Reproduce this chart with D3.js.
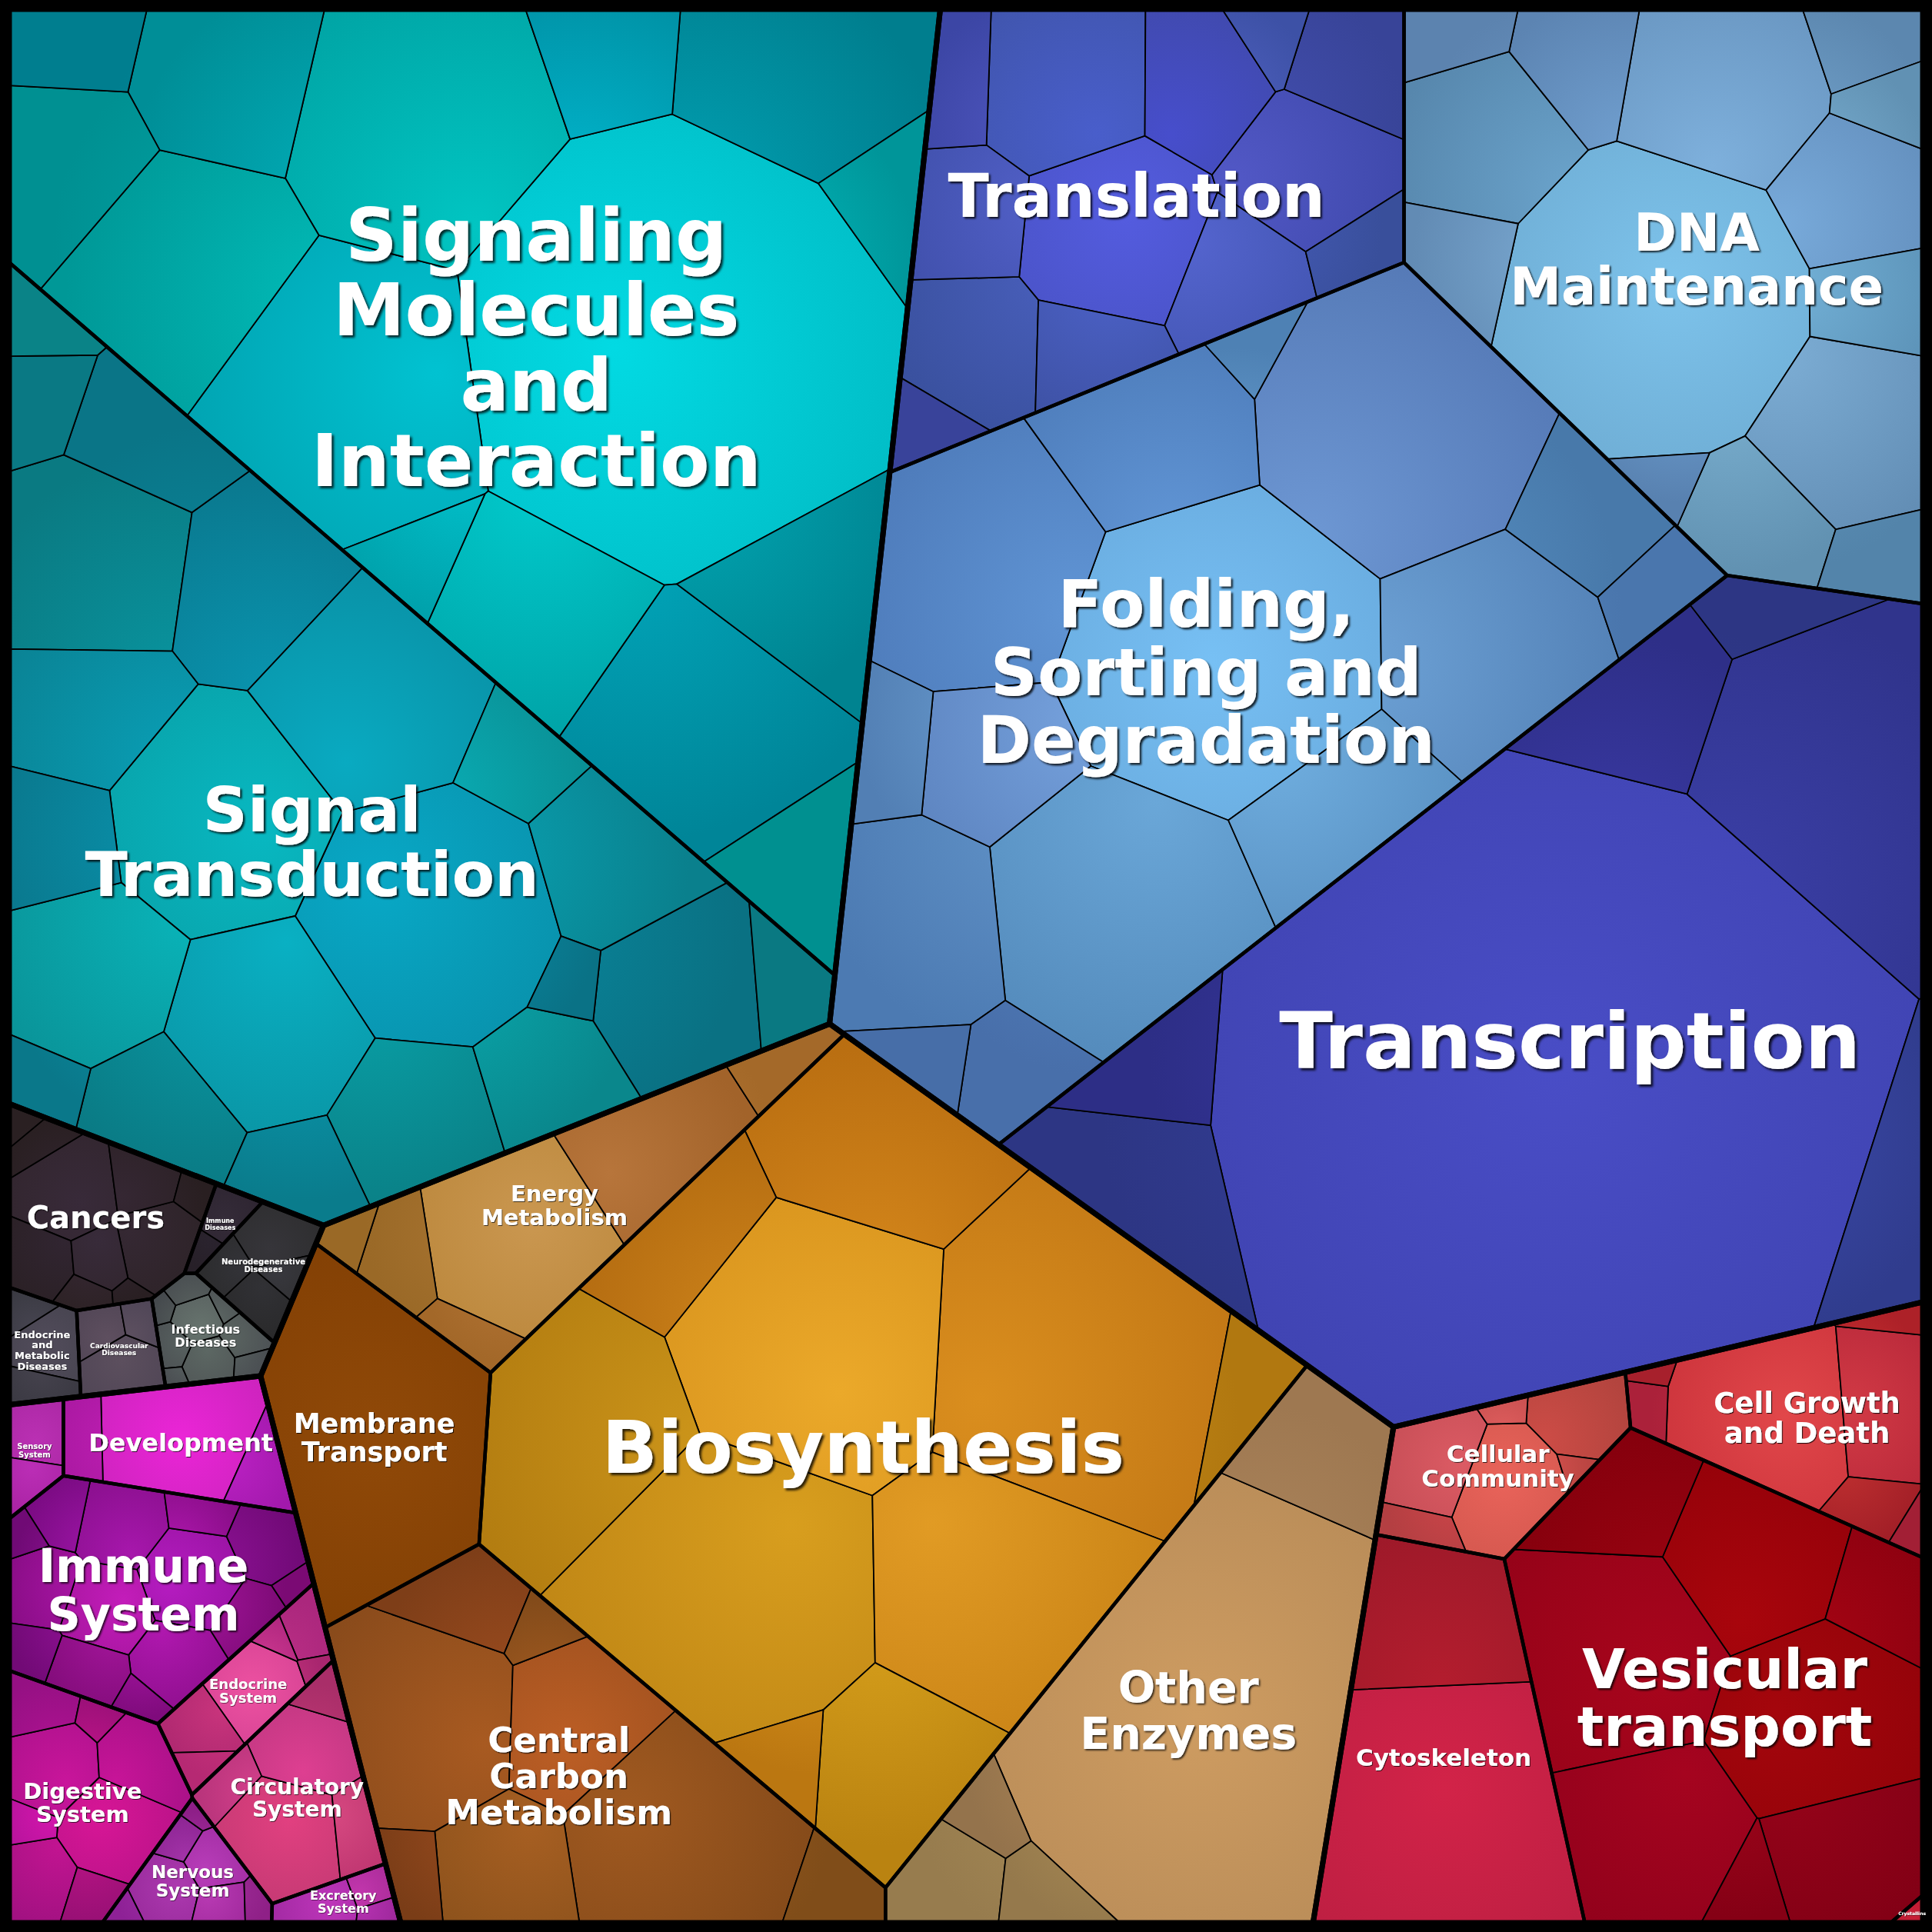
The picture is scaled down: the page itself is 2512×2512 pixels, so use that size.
<!DOCTYPE html>
<html>
<head>
<meta charset="utf-8">
<script src="https://cdn.jsdelivr.net/npm/d3@7"></script>
<style>
  body { margin: 0; background: #000; }
  text { font-family: 'DejaVu Sans', sans-serif; font-weight: bold; }
</style>
</head>
<body>
<script>
// proteomap: share of proteome mass (%), voronoi treemap
const groupNames = [
  'Environmental Information Processing',
  'Genetic Information Processing',
  'Metabolism',
  'Cellular Processes',
  'Organismal Systems',
  'Human Diseases'
];

const subNames = [
  'Signaling Molecules and Interaction', 'Signal Transduction',
  'Translation', 'DNA Maintenance', 'Folding, Sorting and Degradation', 'Transcription',
  'Energy Metabolism', 'Membrane Transport', 'Biosynthesis', 'Other Enzymes', 'Central Carbon Metabolism',
  'Cellular Community', 'Cell Growth and Death', 'Cytoskeleton', 'Vesicular transport', 'Crystallins',
  'Development', 'Sensory System', 'Immune System', 'Endocrine System', 'Digestive System',
  'Circulatory System', 'Nervous System', 'Excretory System',
  'Cancers', 'Immune Diseases', 'Neurodegenerative Diseases', 'Endocrine and Metabolic Diseases',
  'Cardiovascular Diseases', 'Infectious Diseases'
];

const subGroup = [0, 0, 1, 1, 1, 1, 2, 2, 2, 2, 2, 3, 3, 3, 3, 3, 4, 4, 4, 4, 4, 4, 4, 4, 5, 5, 5, 5, 5, 5];

const subValues = [
  15.1, 11.7,
  4.7, 6.7, 12.0, 13.3,
  1.65, 1.55, 10.5, 4.1, 3.4,
  0.8, 1.25, 2.05, 4.5, 0.012,
  0.62, 0.1, 1.45, 0.5, 0.9, 0.62, 0.33, 0.17,
  0.82, 0.06, 0.25, 0.19, 0.19, 0.25
];

// relative size of the single proteins / pathways inside each subcategory
const leafShares = [
  [30, 12, 11, 9, 8, 7, 6, 5, 5, 4, 3, 3, 2, 2, 1.5],
  [10, 8, 7, 6, 6, 5, 5, 5, 4, 4, 4, 3, 3, 3, 2.5, 2, 2, 1.5, 1.5, 1, 1, 0.8],
  [14, 12, 10, 9, 8, 7, 7, 6, 5, 4, 3, 2.5, 2],
  [30, 12, 10, 9, 7, 6, 5, 4, 4, 3, 3, 2.5, 2, 1.5],
  [20, 16, 14, 12, 10, 8, 7, 6, 5, 4, 3, 2.5, 2, 1.5, 1],
  [80, 14, 6, 5, 4, 3, 2],
  [6, 4, 1.5, 1, 0.8, 0.5],
  [1],
  [18, 16, 14, 12, 10, 8, 6, 4, 2, 1.5],
  [20, 3, 1.5, 1, 0.8],
  [12, 10, 6, 5, 3, 2, 1.5, 1],
  [4, 3, 2.5, 1, 0.4, 0.3],
  [6, 3, 1, 0.5, 0.4, 0.3, 0.2],
  [10, 4],
  [8, 7, 6, 5, 4, 3, 2, 1],
  [1],
  [5, 1.2, 1],
  [1, 0.6],
  [5, 4, 4, 3.5, 3, 3, 2.5, 2, 2, 1.5, 1.5, 1, 0.8, 0.6],
  [5, 3, 2, 1.2, 0.8, 0.5],
  [5, 4, 3.5, 3, 2, 1.5, 1, 0.8],
  [6, 4, 2, 1.5, 1],
  [3, 2, 1.5, 1, 0.8, 0.6, 0.4],
  [2, 1, 0.6],
  [6, 4, 3, 2.5, 2, 1.5, 1, 1, 0.6, 0.4],
  [1, 0.4],
  [3, 2, 1.5, 1],
  [3, 1.5, 1],
  [3, 1.5, 1],
  [2, 1.8, 1.5, 1.2, 1, 0.8, 0.6, 0.5, 0.4]
];

const subLabels = [
  'Signaling\nMolecules\nand\nInteraction', 'Signal\nTransduction',
  'Translation', 'DNA\nMaintenance', 'Folding,\nSorting and\nDegradation', 'Transcription',
  'Energy\nMetabolism', 'Membrane\nTransport', 'Biosynthesis', 'Other\nEnzymes', 'Central\nCarbon\nMetabolism',
  'Cellular\nCommunity', 'Cell Growth\nand Death', 'Cytoskeleton', 'Vesicular\ntransport', 'Crystallins',
  'Development', 'Sensory\nSystem', 'Immune\nSystem', 'Endocrine\nSystem', 'Digestive\nSystem',
  'Circulatory\nSystem', 'Nervous\nSystem', 'Excretory\nSystem',
  'Cancers', 'Immune\nDiseases', 'Neurodegenerative\nDiseases', 'Endocrine\nand\nMetabolic\nDiseases',
  'Cardiovascular\nDiseases', 'Infectious\nDiseases'
];

// ---- styles / layout hints ----
const size = 2512;
const frame = 12;

const labelSize = [94, 81, 78, 67, 85, 102, 29, 35, 95, 57, 45, 31, 37, 31, 72, 6,
  32, 10, 60, 18, 29, 28, 23, 16, 40, 8, 10, 13, 9, 16];

const subColors = [
  ['#02e6ee', '#008a93'], ['#08c2d6', '#0a7a86'],
  ['#5c68e8', '#3a4a9e'], ['#92cef8', '#5a86ae'], ['#82c0f8', '#4a76ae'], ['#4a50cc', '#2e3488'],
  ['#d49452', '#a06828'], ['#8c4408', '#6a3000'], ['#f8b428', '#b47410'], ['#d4aa6c', '#98784e'], ['#c86828', '#7c4418'],
  ['#f46060', '#b84040'], ['#f04848', '#a82030'], ['#d8243e', '#a01a30'], ['#b80818', '#860010'], ['#d02040', '#b01830'],
  ['#f030e8', '#a818a8'], ['#c838c0', '#a02098'], ['#d020d0', '#7a0a7a'], ['#f04898', '#b02878'], ['#e818a8', '#9a1080'],
  ['#f85098', '#b03070'], ['#c848c8', '#902090'], ['#d840c8', '#a02898'],
  ['#3c2c40', '#2a2022'], ['#342c3c', '#282028'], ['#3c3c44', '#282828'], ['#565060', '#383840'],
  ['#6a5868', '#484050'], ['#6a7870', '#484c50']
];

// fixed sites of the power diagram (fraction of the square); weights are solved for the areas
const groupHints = [[0.2105, 0.268], [0.733, 0.325], [0.412, 0.774], [0.856, 0.846], [0.0957, 0.855], [0.070, 0.631]];
const subHints = [
  [0.274, 0.179], [0.116, 0.362],
  [0.5995, 0.108], [0.861, 0.108], [0.677, 0.298], [0.809, 0.467],
  [0.314, 0.608], [0.223, 0.731], [0.446, 0.746], [0.638, 0.901], [0.315, 0.901],
  [0.775, 0.762], [0.933, 0.747], [0.75, 0.893], [0.881, 0.864], [0.988, 0.988],
  [0.0893, 0.743], [0.0128, 0.743], [0.0765, 0.823], [0.136, 0.889], [0.0357, 0.937], [0.167, 0.9216], [0.0925, 0.978], [0.188, 0.981],
  [0.0478, 0.615], [0.104, 0.635], [0.1307, 0.660], [0.0191, 0.698], [0.0606, 0.696], [0.105, 0.689]
];

// ---- power diagram helpers ----
function clipHalfPlane(poly, ax, ay, b) {
  const out = [];
  for (let k = 0; k < poly.length; k++) {
    const p = poly[k], q = poly[(k + 1) % poly.length];
    const dp = ax * p[0] + ay * p[1] - b, dq = ax * q[0] + ay * q[1] - b;
    if (dp <= 0) out.push(p);
    if ((dp < 0 && dq > 0) || (dp > 0 && dq < 0)) {
      const t = dp / (dp - dq);
      out.push([p[0] + t * (q[0] - p[0]), p[1] + t * (q[1] - p[1])]);
    }
  }
  return out;
}

function powerCells(clip, sites) {
  return sites.map((s, i) => {
    let poly = clip;
    for (let j = 0; j < sites.length && poly.length > 2; j++) {
      if (j === i) continue;
      const t = sites[j];
      poly = clipHalfPlane(poly, 2 * (t.x - s.x), 2 * (t.y - s.y),
        t.x * t.x + t.y * t.y - s.x * s.x - s.y * s.y - t.w + s.w);
    }
    return poly;
  });
}

function fixOverweighted(sites) {
  let again = true, guard = 0;
  while (again && guard++ < 2000) {
    again = false;
    for (let i = 0; i < sites.length && !again; i++) {
      for (let j = i + 1; j < sites.length; j++) {
        const a = sites[i], b = sites[j];
        const heavy = a.w > b.w ? a : b, light = a.w > b.w ? b : a;
        const d2 = (a.x - b.x) ** 2 + (a.y - b.y) ** 2;
        if (heavy.w - light.w > d2) {
          heavy.w = Math.max(d2 + light.w / 2, 1e-6);
          again = true;
          break;
        }
      }
    }
  }
}

function voronoiMap(clip, values, seeds, iters, moveSites) {
  if (values.length === 1) return [clip];
  const clipArea = Math.abs(d3.polygonArea(clip));
  const total = d3.sum(values);
  const targets = values.map(v => clipArea * v / total);
  const sites = seeds.map((p, i) => ({ x: p[0], y: p[1], w: targets[i] / Math.PI * 0.5 }));
  fixOverweighted(sites);
  for (let it = 0; it < iters; it++) {
    let cells;
    if (moveSites && it < iters - 40) {
      cells = powerCells(clip, sites);
      sites.forEach((s, i) => {
        if (cells[i].length > 2) {
          const c = d3.polygonCentroid(cells[i]);
          s.x = c[0]; s.y = c[1];
        }
      });
      fixOverweighted(sites);
    }
    cells = powerCells(clip, sites);
    sites.forEach((s, i) => {
      const a = cells[i].length > 2 ? Math.abs(d3.polygonArea(cells[i])) : 0;
      let ratio = a > 0 ? targets[i] / a : 2;
      ratio = Math.max(0.6, Math.min(1.6, ratio));
      s.w = Math.max(s.w * ratio, 1e-6);
    });
    fixOverweighted(sites);
  }
  return powerCells(clip, sites);
}

// ---- hierarchy ----
const root = d3.hierarchy({
  name: 'proteome',
  children: groupNames.map((g, gi) => ({
    name: g, gi,
    children: subNames.map((s, si) => si).filter(si => subGroup[si] === gi).map(si => ({
      name: subNames[si], si,
      children: leafShares[si].map((v, li) => ({ li, si, value: subValues[si] * v / d3.sum(leafShares[si]) }))
    }))
  }))
}).sum(d => d.value || 0);

function seedsFor(node, clip) {
  const c = d3.polygonCentroid(clip);
  const kids = node.children;
  const r0 = Math.sqrt(Math.abs(d3.polygonArea(clip)) / Math.PI);
  return kids.map((k, i) => {
    let p;
    if (node.depth === 0) p = groupHints[k.data.gi].map(f => f * size);
    else if (node.depth === 1) p = subHints[k.data.si].map(f => f * size);
    else {
      const r = r0 * 0.8 * Math.sqrt((i + 0.5) / kids.length);
      const a = i * 2.39996 + node.data.si * 0.7;
      p = [c[0] + r * Math.cos(a), c[1] + r * Math.sin(a)];
    }
    let guard = 0;
    while (!d3.polygonContains(clip, p) && guard++ < 80) {
      p = [p[0] + (c[0] - p[0]) * 0.12, p[1] + (c[1] - p[1]) * 0.12];
    }
    return [p[0] + i * 0.013, p[1] + i * 0.011];
  });
}

function layout(node, clip) {
  node.polygon = clip;
  if (!node.children || clip.length < 3) return;
  const iters = node.depth === 0 ? 400 : node.depth === 1 ? 400 : 140;
  const cells = voronoiMap(clip, node.children.map(k => k.value), seedsFor(node, clip), iters, node.depth === 2);
  node.children.forEach((k, i) => layout(k, cells[i]));
}

const box = [[frame, frame], [size - frame, frame], [size - frame, size - frame], [frame, size - frame]];
layout(root, box);

// ---- drawing ----
const svg = d3.select('body').append('svg')
  .attr('width', size)
  .attr('height', size);

svg.append('rect').attr('width', size).attr('height', size).attr('fill', '#000');
const defs = svg.append('defs');
const pathOf = p => 'M' + p.map(q => q[0].toFixed(2) + ',' + q[1].toFixed(2)).join('L') + 'Z';
const areaOf = p => Math.abs(d3.polygonArea(p));

const subs = root.descendants().filter(d => d.depth === 2 && d.polygon.length > 2);
const leaves = root.leaves().filter(d => d.polygon && d.polygon.length > 2);

// every cell gets its own glow, brighter towards the middle of its subcategory
leaves.forEach((d, n) => {
  const [c0, c1] = subColors[d.data.si];
  const sc = d3.polygonCentroid(d.parent.polygon);
  const R = Math.sqrt(areaOf(d.parent.polygon) / Math.PI);
  const lc = d3.polygonCentroid(d.polygon);
  const dist = Math.min(1.2, Math.hypot(lc[0] - sc[0], lc[1] - sc[1]) / R);
  const mix = d3.interpolateRgb(c0, c1);
  const j = Math.sin(d.data.li * 2.7 + d.data.si * 1.3);
  const shift = c => {
    const h = d3.hsl(c);
    if (!isNaN(h.h)) h.h += 4 * j;
    h.l *= 1 + 0.04 * Math.cos(d.data.li * 1.9 + d.data.si);
    return h.formatHex();
  };
  const gx = lc[0] + (sc[0] - lc[0]) * 0.45;
  const gy = lc[1] + (sc[1] - lc[1]) * 0.45;
  const g = defs.append('radialGradient')
    .attr('id', 'leaf' + n)
    .attr('gradientUnits', 'userSpaceOnUse')
    .attr('cx', gx).attr('cy', gy)
    .attr('r', Math.sqrt(areaOf(d.polygon)) * 0.85 + R * 0.25);
  g.append('stop').attr('offset', 0).attr('stop-color', shift(mix(Math.min(1, dist * 0.65))));
  g.append('stop').attr('offset', 1).attr('stop-color', shift(mix(Math.min(1, 0.45 + dist * 0.6))));
  d.grad = 'leaf' + n;
});

svg.append('g').selectAll('path')
  .data(leaves)
  .join('path')
    .attr('d', d => pathOf(d.polygon))
    .attr('fill', d => `url(#${d.grad})`)
    .attr('stroke', '#000')
    .attr('stroke-width', 1.8)
    .attr('stroke-linejoin', 'round');

svg.append('g').selectAll('path')
  .data(subs)
  .join('path')
    .attr('d', d => pathOf(d.polygon))
    .attr('fill', 'none')
    .attr('stroke', '#000')
    .attr('stroke-width', 4.5)
    .attr('stroke-linejoin', 'round');

svg.append('g').selectAll('path')
  .data(root.children.filter(d => d.polygon.length > 2))
  .join('path')
    .attr('d', d => pathOf(d.polygon))
    .attr('fill', 'none')
    .attr('stroke', '#000')
    .attr('stroke-width', 7)
    .attr('stroke-linejoin', 'round');

svg.append('rect')
  .attr('x', frame / 2).attr('y', frame / 2)
  .attr('width', size - frame).attr('height', size - frame)
  .attr('fill', 'none')
  .attr('stroke', '#000')
  .attr('stroke-width', frame);

// labels
const labelG = svg.append('g');
subs.forEach(s => {
  const si = s.data.si;
  const fs = labelSize[si];
  const lines = subLabels[si].split('\n');
  const cen = d3.polygonCentroid(s.polygon);
  const lh = fs * 1.04;
  const fid = 'sh' + si;
  defs.append('filter')
    .attr('id', fid)
    .attr('x', '-10%').attr('y', '-20%').attr('width', '120%').attr('height', '140%')
    .append('feDropShadow')
      .attr('dx', Math.max(0.6, fs * 0.03))
      .attr('dy', Math.max(0.6, fs * 0.03))
      .attr('stdDeviation', Math.max(0.4, fs * 0.015))
      .attr('flood-color', '#000')
      .attr('flood-opacity', 0.8);
  const t = labelG.append('text')
    .attr('text-anchor', 'middle')
    .attr('font-size', fs)
    .attr('fill', '#fff')
    .attr('filter', `url(#${fid})`);
  lines.forEach((ln, k) => {
    t.append('tspan')
      .attr('x', cen[0])
      .attr('y', cen[1] - (lines.length - 1) * lh / 2 + k * lh + fs * 0.36)
      .text(ln);
  });
});
</script>
</body>
</html>
